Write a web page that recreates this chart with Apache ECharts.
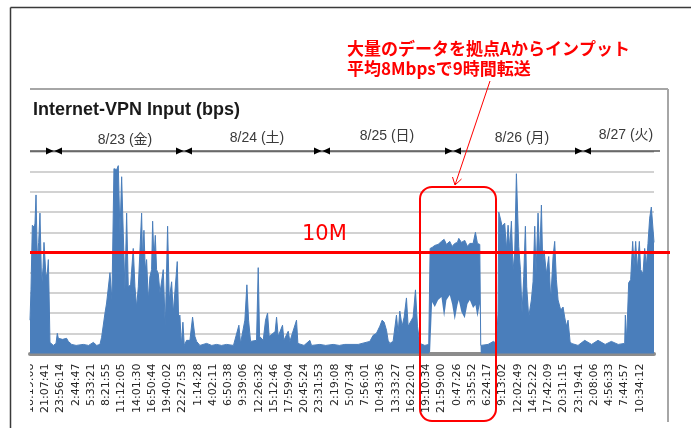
<!DOCTYPE html>
<html><head><meta charset="utf-8">
<script src="https://cdn.jsdelivr.net/npm/echarts/dist/echarts.min.js"></script>
<style>html,body{margin:0;padding:0;background:#fff}#c{width:691px;height:428px}</style>
</head><body><div id="c"></div>
<script>
// x tick labels (every 2:48:33, starting 8/22 18:19:08)
const tickLabels = ['18:19:08','21:07:41','23:56:14','2:44:47','5:33:21','8:21:55','11:12:05','14:01:30','16:50:44','19:40:02','22:27:53','1:14:28','4:02:11','6:50:38','9:39:06','12:26:32','15:12:46','17:59:04','20:45:24','23:31:53','2:19:08','5:07:34','7:56:01','10:43:36','13:33:27','16:22:01','19:10:34','21:59:00','0:47:26','3:35:52','6:24:17','9:13:02','12:02:49','14:52:22','17:42:09','20:31:15','23:19:41','2:08:06','4:56:33','7:44:57','10:34:12'];
const tickStepH = 2.8092;
const xMaxH = 115;
// time in hours since first tick; peak (upper envelope) in Mbps
const timeH = [0,0.18,0.43,0.8,0.92,1.11,1.35,1.6,1.84,2.15,2.4,2.58,2.95,3.2,3.38,3.55,3.68,4.3,4.8,5.03,5.22,6,6.75,7.06,7.68,8.5,9.82,10.8,11.67,12.3,12.89,13.2,13.82,14.12,14.74,15.1,15.47,15.96,16.27,16.58,16.89,17.19,17.5,17.81,18.11,18.54,19.03,19.34,19.65,19.96,20.57,20.75,21,21.24,21.49,21.8,22.1,22.41,22.6,22.84,23.09,23.33,23.64,23.95,24.56,24.93,25.36,25.67,26.1,26.4,27.14,27.38,27.63,27.88,28.18,28.43,28.86,29.47,29.96,30.39,30.7,31.31,32.54,33.5,34.38,35.3,36.23,37.5,38.5,38.8,39.6,39.97,40.28,40.65,41.75,42.06,42.31,42.98,43.41,43.78,44.08,44.82,45.19,45.44,45.74,46.54,46.79,47.59,47.89,49.12,49.37,50.5,51.58,51.88,53.42,54.5,55.87,57,58.02,60.48,62.63,63.24,63.85,64.47,64.9,65.27,65.7,66,66.31,66.92,67.54,67.84,68.15,68.58,68.95,69.38,69.69,70.3,70.61,71.04,71.41,71.84,72.76,73.49,73.74,74.11,74.6,75.21,75.83,76.32,76.75,77.36,77.79,78.28,78.77,79.02,79.51,80.12,80.62,81.05,81.66,82.09,82.46,82.89,83.07,84.42,85.4,85.96,86.26,86.39,86.76,87,87.49,87.8,88.11,88.41,88.72,89.03,89.33,89.64,89.83,90.07,90.38,90.68,90.99,91.3,91.54,91.91,92.4,92.71,93.02,93.26,93.63,93.94,94.25,94.49,94.74,95.17,95.6,95.97,96.4,96.7,97.01,97.32,97.81,98.24,98.54,98.85,99.16,99.53,99.77,101,102.23,103.5,104.68,106,107.14,108.4,109.6,109.72,109.96,110.33,110.7,111.07,111.32,111.62,111.93,112.3,112.54,112.97,113.28,113.59,113.89,114.2,114.51,114.82,115];
const peakM = [3.3,6.3,12.7,12.5,12.9,15.7,9.3,11,13.9,6.6,8.5,11,7.6,8,9.3,5,1.1,0.8,1,2,1.5,1.4,1.5,1.2,0.9,0.8,0.9,0.8,1.1,0.8,0.9,1.6,4,5,8,5.3,18.3,18.2,18.6,11.9,17.5,11.9,6.3,13.9,6.6,6.8,10.4,6.6,4.6,6.6,13.9,9.3,12.2,8.3,9.3,5.3,7.6,8.3,13.1,9.3,11.7,8.3,7.9,6,8.3,2.6,12.6,5.3,7.1,4,9.1,3.6,3.8,0.8,3.1,0.8,1.3,1.3,3.6,1.7,1.2,0.8,1,0.8,0.9,0.8,0.9,0.8,2.8,1,3.3,6.8,3.3,1.2,1.3,8.5,1.7,1.3,3.3,4,1.7,2,2.2,3.6,1.7,2.8,1.3,2.2,1.2,3.3,1,0.8,1.3,0.8,0.9,0.8,0.9,0.8,0.9,0.9,1.2,1.8,2,2.7,3.3,3.1,2.3,1.3,1,1.2,3.8,2,4.2,2.7,3.6,5.5,2.7,3.3,3.6,6.3,2.7,1,0.8,0.9,10.4,10.5,10.7,10.8,11.1,11.3,10.8,11.1,10.6,10.9,11,11.4,11,11.2,10.6,10.9,10.9,12,10.9,10.8,0.8,0.9,1.2,1,4,14,13.2,12.6,12.9,10.3,12.7,10.4,13.1,8.3,9.9,17.8,17.7,10.6,8.3,4,7.6,12.6,6.6,3.6,5.3,7.1,12.6,7.9,13.9,9.6,14.7,8.9,10.2,7.9,9.6,5.3,9.6,11.1,7.3,5.3,4.3,4.6,3.6,2.7,3.3,1.2,1,0.8,1.3,0.9,1.3,0.9,1.2,0.9,1,3.8,1.3,7,7.3,11.1,8.6,11.1,8.3,11.1,8.3,7.9,10.4,8.6,10.9,13.4,14.5,14.5,11];
// lower envelope (Mbps) during the bulk transfer; 0 elsewhere
const floorTimeH = [73.74,74.11,74.6,75.21,75.83,76.32,76.75,77.36,77.79,78.28,78.77,79.02,79.51,80.12,80.62,81.05,81.66,82.09,82.46,82.89];
const floorM = [0.2,5.1,4.6,5.3,5.6,3.6,5.3,5.8,4.9,3.3,4.8,5.3,4.1,3.5,4.9,5.3,4.5,4.8,3.6,4.9];
const dayLabels = ['8/23 (金)','8/24 (土)','8/25 (日)','8/26 (月)','8/27 (火)'];
const thresholdM = 10;
const thresholdLabel = '10M';
const noteLines = ['大量のデータを拠点Aからインプット','平均8Mbpsで9時間転送'];
const chartTitle = 'Internet-VPN Input (bps)';

const floorMap = new Map(floorTimeH.map((t, i) => [t, floorM[i]]));
// rows are [value, time] so that the value dimension is the stacked one
const baseData = timeH.map(t => [floorMap.get(t) || 0, t]);
const rangeData = timeH.map((t, i) => [+(peakM[i] - (floorMap.get(t) || 0)).toFixed(3), t]);

const chart = echarts.init(document.getElementById('c'), null, {renderer: 'canvas'});
chart.setOption({
  animation: false,
  backgroundColor: '#ffffff',
  grid: {left: 30, right: 37, top: 151.5, height: 202, containLabel: false, outerBoundsMode: 'none'},
  xAxis: {
    type: 'value', min: 0, max: xMaxH, interval: tickStepH, offset: 2,
    axisLine: {show: true, lineStyle: {color: '#8c8c8c', width: 4}},
    axisTick: {show: false},
    splitLine: {show: false},
    axisLabel: {
      rotate: 90, margin: 8, fontSize: 11, fontFamily: 'DejaVu Sans', color: '#262626',
      showMinLabel: true, showMaxLabel: true, hideOverlap: false,
      formatter: v => { const k = v / tickStepH; const r = Math.round(k); return Math.abs(k - r) < 0.01 ? (tickLabels[r] || '') : ''; }
    }
  },
  yAxis: {
    type: 'value', min: 0, max: 20, interval: 2,
    axisLine: {show: false}, axisTick: {show: false}, axisLabel: {show: false},
    splitLine: {show: true, lineStyle: {color: '#c3c3c3', width: 1.5}}
  },
  series: [
    {type: 'line', stack: 'in', data: baseData, encode: {x: 1, y: 0}, symbol: 'none', silent: true, lineStyle: {width: 0, opacity: 0}},
    {type: 'line', stack: 'in', data: rangeData, encode: {x: 1, y: 0}, symbol: 'none',
     lineStyle: {color: '#4a7ebb', width: 1}, areaStyle: {color: '#4a7ebb', opacity: 1}}
  ]
});

const yTh = chart.convertToPixel({yAxisIndex: 0}, thresholdM);
const dayCenters = [125, 257, 387, 522, 626];
const dayY = [140, 138.5, 136.5, 138, 135];
const bowX = [54, 184, 322, 453, 583];
const lineY = 151;
const els = [];
els.push({type: 'line', z: 100, shape: {x1: 10.5, y1: 7.5, x2: 691, y2: 7.5}, style: {stroke: '#3a3a3a', lineWidth: 1.5}});
els.push({type: 'line', z: 100, shape: {x1: 10.5, y1: 7.5, x2: 10.5, y2: 428}, style: {stroke: '#3a3a3a', lineWidth: 1.5}});
els.push({type: 'line', z: 100, shape: {x1: 30, y1: 89, x2: 668, y2: 89}, style: {stroke: '#a6a6a6', lineWidth: 2}});
els.push({type: 'line', z: 100, shape: {x1: 668, y1: 89, x2: 668, y2: 422}, style: {stroke: '#a6a6a6', lineWidth: 2}});
els.push({type: 'rect', z: 90, shape: {x: 11.5, y: 356, width: 18.5, height: 72}, style: {fill: '#ffffff'}});
els.push({type: 'text', z: 100, x: 33, y: 110, style: {text: chartTitle, font: 'bold 18px "Liberation Sans", Arial, sans-serif', fill: '#1a1a1a', verticalAlign: 'middle', align: 'left'}});
els.push({type: 'line', z: 100, shape: {x1: 30, y1: lineY, x2: 660, y2: lineY}, style: {stroke: '#000', lineWidth: 1.2}});
bowX.forEach(cx => {
  els.push({type: 'polygon', z: 101, shape: {points: [[cx - 8, lineY - 3.5], [cx - 0.5, lineY], [cx - 8, lineY + 3.5]]}, style: {fill: '#000'}});
  els.push({type: 'polygon', z: 101, shape: {points: [[cx + 8, lineY - 3.5], [cx + 0.5, lineY], [cx + 8, lineY + 3.5]]}, style: {fill: '#000'}});
});
dayLabels.forEach((d, i) => {
  els.push({type: 'text', z: 100, x: dayCenters[i], y: dayY[i], style: {text: d, font: '14px "Liberation Sans", "Noto Sans CJK JP", sans-serif', fill: '#3a3a3a', align: 'center', verticalAlign: 'middle'}});
});
els.push({type: 'line', z: 110, shape: {x1: 30, y1: yTh, x2: 670, y2: yTh}, style: {stroke: '#ff0000', lineWidth: 3}});
els.push({type: 'text', z: 110, x: 302, y: 235, style: {text: thresholdLabel, font: '21px "DejaVu Sans", sans-serif', fill: '#ff0000', align: 'left', verticalAlign: 'middle'}});
els.push({type: 'rect', z: 110, shape: {x: 420, y: 187, width: 76, height: 234, r: 12}, style: {fill: 'none', stroke: '#ff0000', lineWidth: 2}});
els.push({type: 'line', z: 110, shape: {x1: 490, y1: 81, x2: 455, y2: 185}, style: {stroke: '#ff0000', lineWidth: 1}});
els.push({type: 'polyline', z: 110, shape: {points: [[452.5, 177], [455, 185], [461.5, 179]]}, style: {stroke: '#ff0000', lineWidth: 1, fill: 'none'}});
noteLines.forEach((t, i) => {
  els.push({type: 'text', z: 110, x: 347, y: 49 + i * 20, style: {text: t, font: 'bold 17px "Noto Sans CJK JP", sans-serif', fill: '#ff0000', align: 'left', verticalAlign: 'middle'}});
});
chart.setOption({graphic: {elements: els}});
</script>
</body></html>
